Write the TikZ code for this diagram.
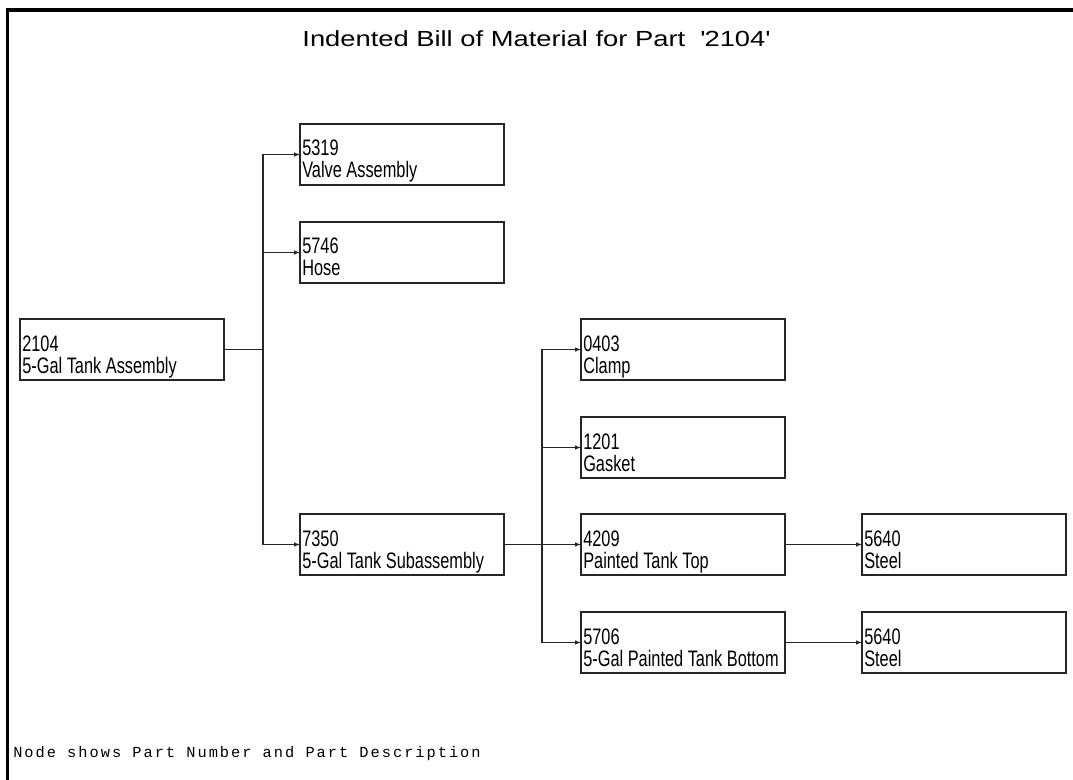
\documentclass[tikz,border=0pt]{standalone}
\usepackage{fontspec}
\usetikzlibrary{arrows.meta}
\newfontfamily\boxfont[FakeStretch=0.73]{Liberation Sans}
\newfontfamily\titlefont[FakeStretch=1.25]{Liberation Sans}
\newfontfamily\notefont[LetterSpace=13]{Liberation Mono}
\newcommand{\partnode}[5]{%
  \node[partbox, anchor=north west] (#1) at (#2,#3) {};
  \node[parttext] (#1-num) at (#2+2,#3+32) {#4};
  \node[parttext] (#1-desc) at (#2+2,#3+54) {#5};
}
\begin{document}
\begin{tikzpicture}[x=0.75pt,y=-0.75pt,
  partbox/.style={draw=black!85, line width=1.2pt, minimum width=153pt, minimum height=45.75pt, inner sep=0pt, outer sep=0pt},
  parttext/.style={font=\boxfont\fontsize{16.8}{20}\selectfont, inner sep=0pt, anchor=base west},
  conn/.style={draw=black!85, line width=0.8pt},
  arr/.style={conn, -{Latex[length=4.5pt,width=3.5pt]}},
  frame/.style={line width=2.3pt, black}
]
\useasboundingbox (0,0) rectangle (1073,780);
\draw[frame] (7.5,780) -- (7.5,10) -- (1073,10);

\node[font=\titlefont\fontsize{16.4}{20}\selectfont, inner sep=0pt, anchor=base] (title) at (536,47)
  {Indented Bill of Material for Part\ \ \textquotesingle 2104\textquotesingle};

\partnode{n2104}{20}{319}{2104}{5-Gal Tank Assembly}
\partnode{n5319}{300}{124}{5319}{Valve Assembly}
\partnode{n5746}{300}{222}{5746}{Hose}
\partnode{n7350}{300}{514}{7350}{5-Gal Tank Subassembly}
\partnode{n0403}{581}{319}{0403}{Clamp}
\partnode{n1201}{581}{417}{1201}{Gasket}
\partnode{n4209}{581}{514}{4209}{Painted Tank Top}
\partnode{n5706}{581}{612}{5706}{5-Gal Painted Tank Bottom}
\partnode{n5640a}{862}{514}{5640}{Steel}
\partnode{n5640b}{862}{612}{5640}{Steel}

\draw[conn] (n2104.east) -- ++(39,0) coordinate (j1);
\draw[arr] (j1) |- (n5319.west);
\draw[arr] (j1) |- (n5746.west);
\draw[arr] (j1) |- (n7350.west);
\draw[conn] (n7350.east) -- ++(38,0) coordinate (j2);
\draw[arr] (j2) |- (n0403.west);
\draw[arr] (j2) |- (n1201.west);
\draw[arr] (j2) |- (n4209.west);
\draw[arr] (j2) |- (n5706.west);
\draw[arr] (n4209.east) -- (n5640a.west);
\draw[arr] (n5706.east) -- (n5640b.west);

\node[font=\notefont\fontsize{11.5}{13}\selectfont, inner sep=0pt, anchor=base west] (note) at (13,757)
  {Node shows Part Number and Part Description};
\end{tikzpicture}
\end{document}
